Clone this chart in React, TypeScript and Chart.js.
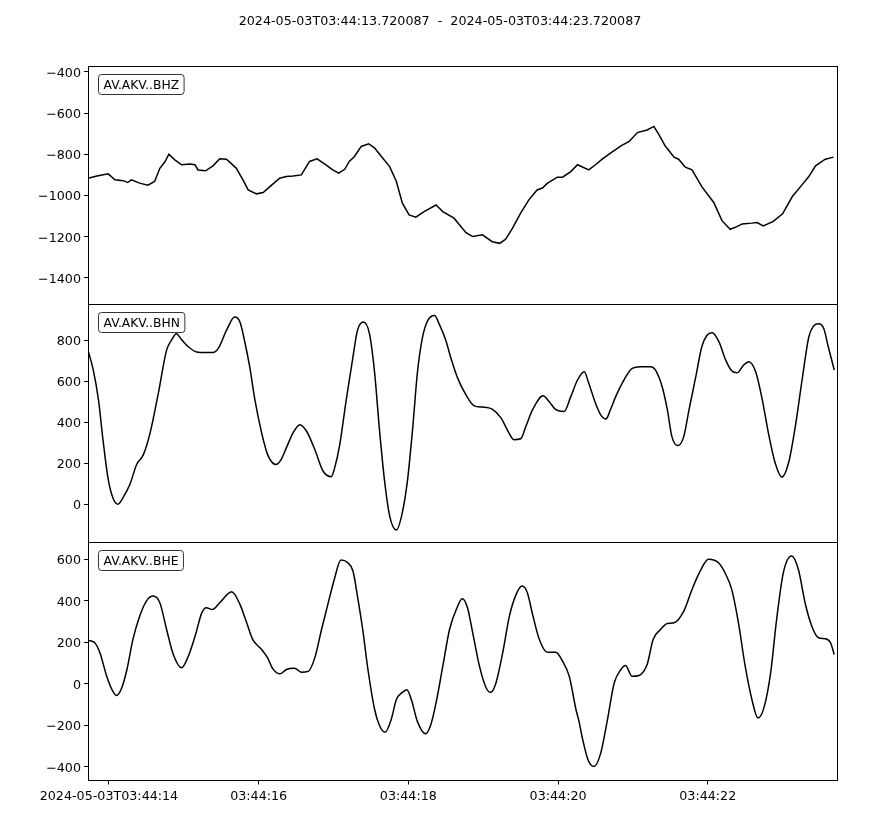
import React, { useEffect, useRef } from "react";
import { Chart, registerables } from "chart.js";

Chart.register(...registerables);

const titleText = "2024-05-03T03:44:13.720087  -  2024-05-03T03:44:23.720087";
const traceLabels = ["AV.AKV..BHZ", "AV.AKV..BHN", "AV.AKV..BHE"];

const xMin = 13.72;
const xMax = 23.72;
const xTickValues = [14, 16, 18, 20, 22];
const xTickLabels = ["2024-05-03T03:44:14", "03:44:16", "03:44:18", "03:44:20", "03:44:22"];

const zTicks = [-1400, -1200, -1000, -800, -600, -400];
const nTicks = [0, 200, 400, 600, 800];
const eTicks = [-400, -200, 0, 200, 400, 600];
const zRange = [-1527, -372];
const nRange = [-186, 976];
const eRange = [-466, 682];

const zTimes = [13.72, 13.84, 13.99, 14.08, 14.19, 14.25, 14.30, 14.41, 14.52, 14.61, 14.68, 14.75, 14.80, 14.88, 14.97, 15.08, 15.15, 15.19, 15.29, 15.39, 15.48, 15.57, 15.70, 15.79, 15.86, 15.97, 16.06, 16.15, 16.28, 16.37, 16.46, 16.57, 16.68, 16.78, 16.88, 16.99, 17.07, 17.15, 17.21, 17.28, 17.37, 17.47, 17.55, 17.64, 17.75, 17.84, 17.92, 18.01, 18.10, 18.21, 18.37, 18.46, 18.61, 18.77, 18.86, 18.99, 19.12, 19.22, 19.30, 19.39, 19.50, 19.61, 19.72, 19.79, 19.86, 19.99, 20.06, 20.17, 20.26, 20.41, 20.50, 20.59, 20.70, 20.84, 20.95, 21.06, 21.19, 21.28, 21.35, 21.43, 21.55, 21.61, 21.70, 21.79, 21.92, 22.08, 22.19, 22.30, 22.39, 22.46, 22.59, 22.66, 22.74, 22.87, 23.00, 23.13, 23.24, 23.35, 23.44, 23.57, 23.68];
const zValues = [-916, -905, -895, -924, -928, -937, -924, -940, -950, -932, -868, -835, -800, -827, -851, -847, -851, -876, -880, -856, -822, -824, -867, -924, -973, -992, -986, -957, -916, -908, -905, -900, -835, -822, -847, -876, -892, -873, -835, -811, -762, -749, -770, -811, -860, -932, -1037, -1094, -1105, -1078, -1046, -1078, -1110, -1180, -1199, -1191, -1224, -1232, -1212, -1159, -1086, -1021, -973, -964, -940, -911, -911, -884, -851, -876, -851, -824, -795, -759, -738, -695, -682, -665, -706, -759, -814, -824, -863, -876, -957, -1034, -1122, -1164, -1151, -1138, -1134, -1131, -1148, -1127, -1089, -1005, -957, -908, -856, -824, -814];

const nTimes = [13.72, 13.79, 13.86, 13.92, 13.99, 14.06, 14.12, 14.19, 14.28, 14.37, 14.46, 14.55, 14.66, 14.77, 14.84, 14.90, 14.97, 15.06, 15.17, 15.28, 15.39, 15.46, 15.57, 15.68, 15.75, 15.81, 15.88, 15.95, 16.04, 16.12, 16.23, 16.30, 16.37, 16.46, 16.55, 16.64, 16.75, 16.86, 16.97, 17.01, 17.08, 17.17, 17.26, 17.32, 17.40, 17.48, 17.55, 17.61, 17.68, 17.75, 17.84, 17.92, 17.99, 18.06, 18.12, 18.19, 18.26, 18.35, 18.41, 18.50, 18.57, 18.66, 18.77, 18.88, 18.99, 19.12, 19.24, 19.32, 19.41, 19.50, 19.57, 19.66, 19.80, 19.88, 19.97, 20.08, 20.17, 20.26, 20.35, 20.41, 20.50, 20.57, 20.64, 20.70, 20.77, 20.88, 20.99, 21.10, 21.24, 21.30, 21.39, 21.46, 21.52, 21.60, 21.68, 21.75, 21.84, 21.92, 21.99, 22.06, 22.15, 22.24, 22.32, 22.39, 22.48, 22.55, 22.64, 22.72, 22.81, 22.90, 22.99, 23.08, 23.17, 23.26, 23.35, 23.41, 23.48, 23.55, 23.61, 23.69];
const nValues = [752, 655, 509, 315, 121, 24, 0, 33, 97, 194, 242, 348, 542, 752, 803, 832, 803, 768, 743, 740, 740, 760, 848, 913, 889, 800, 671, 509, 348, 242, 194, 218, 275, 348, 388, 356, 267, 162, 134, 170, 283, 509, 719, 848, 889, 832, 639, 380, 121, -57, -126, -40, 121, 380, 639, 816, 897, 921, 881, 800, 711, 614, 533, 480, 474, 464, 420, 364, 315, 319, 380, 461, 529, 501, 461, 452, 525, 606, 646, 590, 493, 436, 416, 461, 525, 606, 663, 671, 671, 655, 574, 461, 331, 286, 331, 461, 622, 768, 824, 837, 792, 703, 651, 641, 679, 695, 646, 525, 348, 202, 132, 202, 380, 606, 816, 868, 881, 857, 768, 655];

const eTimes = [13.72, 13.81, 13.88, 13.97, 14.04, 14.10, 14.17, 14.24, 14.32, 14.41, 14.50, 14.59, 14.68, 14.77, 14.86, 14.97, 15.06, 15.15, 15.24, 15.30, 15.38, 15.48, 15.64, 15.75, 15.84, 15.92, 16.04, 16.12, 16.19, 16.29, 16.37, 16.48, 16.57, 16.66, 16.75, 16.84, 16.95, 17.01, 17.10, 17.19, 17.26, 17.32, 17.39, 17.46, 17.55, 17.61, 17.69, 17.77, 17.84, 17.92, 17.98, 18.04, 18.12, 18.23, 18.30, 18.37, 18.46, 18.55, 18.64, 18.72, 18.79, 18.86, 18.95, 19.04, 19.10, 19.17, 19.26, 19.35, 19.44, 19.52, 19.59, 19.66, 19.75, 19.86, 19.97, 20.06, 20.15, 20.24, 20.28, 20.32, 20.40, 20.48, 20.57, 20.66, 20.75, 20.84, 20.90, 20.99, 21.08, 21.19, 21.27, 21.37, 21.46, 21.55, 21.68, 21.79, 21.90, 22.01, 22.15, 22.24, 22.32, 22.41, 22.50, 22.59, 22.67, 22.75, 22.84, 22.92, 23.01, 23.12, 23.21, 23.30, 23.39, 23.48, 23.57, 23.64, 23.69];
const eValues = [210, 198, 149, 36, -28, -56, -20, 69, 214, 326, 399, 423, 391, 262, 141, 77, 133, 229, 342, 367, 358, 391, 444, 383, 294, 214, 165, 125, 72, 48, 69, 75, 56, 60, 125, 262, 420, 503, 597, 584, 544, 423, 262, 69, -125, -197, -234, -173, -76, -41, -28, -76, -181, -241, -197, -92, 85, 262, 358, 410, 367, 246, 85, -20, -41, 4, 149, 326, 431, 471, 439, 334, 214, 152, 152, 109, 36, -125, -181, -254, -366, -399, -334, -173, 4, 69, 88, 36, 40, 93, 214, 262, 291, 294, 350, 455, 544, 600, 581, 528, 455, 294, 85, -76, -165, -116, 53, 310, 536, 616, 552, 391, 278, 222, 217, 198, 141];

const FONT = "DejaVu Sans";
const minus = (v: number) => String(v).replace("-", "\u2212");

function pts(ts: number[], vs: number[]) {
  return ts.map((t, i) => ({ x: t, y: vs[i] }));
}

export default function App() {
  const ref = useRef<HTMLCanvasElement | null>(null);

  useEffect(() => {
    if (!ref.current) return;
    const yAxis = (range: number[], ticks: number[]) => ({
      type: "linear" as const,
      position: "left" as const,
      stack: "traces",
      stackWeight: 1,
      min: range[0],
      max: range[1],
      afterFit: (s: any) => { s.width = 88; },
      afterBuildTicks: (s: any) => { s.ticks = ticks.map((v) => ({ value: v })); },
      grid: { display: true, drawOnChartArea: false, tickLength: 4, tickColor: "#000", tickWidth: 1 },
      border: { display: true, color: "#000", width: 1 },
      ticks: {
        color: "#000",
        padding: 3,
        labelOffset: 1.5,
        font: { family: FONT, size: 12.7 },
        callback: (v: any) => minus(v),
      },
    });

    const panelPlugin = {
      id: "panels",
      afterDraw(chart: any) {
        const { ctx, chartArea } = chart;
        const ids = ["yZ", "yN", "yE"];
        ctx.save();
        ctx.strokeStyle = "#000";
        ctx.lineWidth = 1;
        ids.forEach((id, i) => {
          const s = chart.scales[id];
          const top = Math.round(s.top) + 0.5;
          const bottom = Math.round(s.bottom) + 0.5;
          ctx.strokeRect(Math.round(chartArea.left) + 0.5, top, Math.round(chartArea.right - chartArea.left), bottom - top);
          ctx.font = `12.3px ${FONT}`;
          const label = traceLabels[i];
          const w = ctx.measureText(label).width;
          const bx = chartArea.left + 10.5;
          const by = top + 8;
          const bw = w + 10;
          const bh = 20;
          ctx.beginPath();
          ctx.roundRect(bx, by, bw, bh, 3);
          ctx.fillStyle = "#fff";
          ctx.fill();
          ctx.strokeStyle = "#333";
          ctx.stroke();
          ctx.fillStyle = "#000";
          ctx.textBaseline = "middle";
          ctx.textAlign = "left";
          ctx.fillText(label, bx + 5, by + bh / 2 + 1);
          ctx.strokeStyle = "#000";
        });
        ctx.font = `12.7px ${FONT}`;
        ctx.fillStyle = "#000";
        ctx.textAlign = "center";
        ctx.textBaseline = "middle";
        ctx.fillText(titleText, chart.width / 2, 21.5);
        ctx.restore();
      },
    };

    const lineDs = (label: string, data: any[], axis: string, smooth: boolean) => ({
      label,
      data,
      yAxisID: axis,
      borderColor: "#000",
      borderWidth: 1.5,
      pointRadius: 0,
      fill: false,
      tension: smooth ? 0.4 : 0,
      cubicInterpolationMode: smooth ? ("monotone" as const) : ("default" as const),
    });

    const chart = new Chart(ref.current, {
      type: "line",
      data: {
        datasets: [
          lineDs(traceLabels[0], pts(zTimes, zValues), "yZ", false),
          lineDs(traceLabels[1], pts(nTimes, nValues), "yN", true),
          lineDs(traceLabels[2], pts(eTimes, eValues), "yE", true),
        ],
      },
      options: {
        responsive: false,
        animation: false,
        events: [],
        layout: { padding: { top: 66, right: 43.5, bottom: 0, left: 0 } },
        plugins: { legend: { display: false }, tooltip: { enabled: false }, title: { display: false } },
        scales: {
          x: {
            type: "linear",
            min: xMin,
            max: xMax,
            afterFit: (s: any) => { s.height = 44.5; },
            afterBuildTicks: (s: any) => { s.ticks = xTickValues.map((v) => ({ value: v })); },
            grid: { display: true, drawOnChartArea: false, tickLength: 4, tickColor: "#000", tickWidth: 1 },
            border: { display: true, color: "#000", width: 1 },
            ticks: {
              color: "#000",
              padding: 5,
              autoSkip: false,
              maxRotation: 0,
              font: { family: FONT, size: 12.7 },
              callback: (_v: any, i: number) => xTickLabels[i],
            },
          },
          yE: yAxis(eRange, eTicks),
          yN: yAxis(nRange, nTicks),
          yZ: yAxis(zRange, zTicks),
        } as any,
      },
      plugins: [panelPlugin],
    });
    return () => chart.destroy();
  }, []);

  return (
    <div style={{ position: "absolute", left: 0, top: 0, width: 880, height: 825, background: "#fff" }}>
      <canvas ref={ref} width={880} height={825} style={{ width: 880, height: 825, display: "block" }} />
    </div>
  );
}
